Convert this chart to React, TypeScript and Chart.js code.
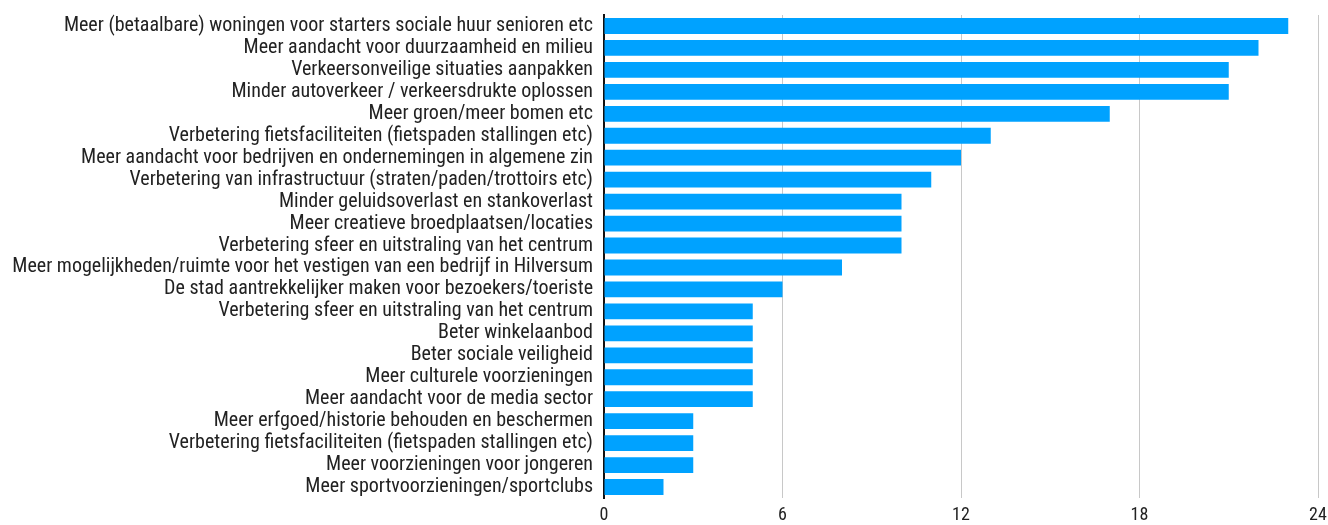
import React, { useEffect, useRef } from "react";
import { Chart, registerables } from "chart.js";

Chart.register(...registerables);

const categories: string[] = [
  "Meer (betaalbare) woningen voor starters sociale huur senioren etc",
  "Meer aandacht voor duurzaamheid en milieu",
  "Verkeersonveilige situaties aanpakken",
  "Minder autoverkeer / verkeersdrukte oplossen",
  "Meer groen/meer bomen etc",
  "Verbetering fietsfaciliteiten (fietspaden stallingen etc)",
  "Meer aandacht voor bedrijven en ondernemingen in algemene zin",
  "Verbetering van infrastructuur (straten/paden/trottoirs etc)",
  "Minder geluidsoverlast en stankoverlast",
  "Meer creatieve broedplaatsen/locaties",
  "Verbetering sfeer en uitstraling van het centrum",
  "Meer mogelijkheden/ruimte voor het vestigen van een bedrijf in Hilversum",
  "De stad aantrekkelijker maken voor bezoekers/toeriste",
  "Verbetering sfeer en uitstraling van het centrum",
  "Beter winkelaanbod",
  "Beter sociale veiligheid",
  "Meer culturele voorzieningen",
  "Meer aandacht voor de media sector",
  "Meer erfgoed/historie behouden en beschermen",
  "Verbetering fietsfaciliteiten (fietspaden stallingen etc)",
  "Meer voorzieningen voor jongeren",
  "Meer sportvoorzieningen/sportclubs",
];

const counts: number[] = [23, 22, 21, 21, 17, 13, 12, 11, 10, 10, 10, 8, 6, 5, 5, 5, 5, 5, 3, 3, 3, 2];

const xTicks: number[] = [0, 6, 12, 18, 24];

const FONT = "'Roboto Condensed', 'Liberation Sans Narrow', 'Arial Narrow', Roboto, sans-serif";

export default function App() {
  const ref = useRef<HTMLCanvasElement | null>(null);

  useEffect(() => {
    if (!ref.current) return;
    const chart = new Chart(ref.current, {
      type: "bar",
      data: {
        labels: categories.map((_, i) => String(i)),
        datasets: [
          {
            data: counts,
            backgroundColor: "#00A2FF",
            borderWidth: 0,
            categoryPercentage: 1,
            barPercentage: 0.72,
          },
        ],
      },
      options: {
        indexAxis: "y",
        animation: false,
        responsive: true,
        maintainAspectRatio: false,
        layout: { padding: { top: 15, right: 10, left: 0, bottom: 0 } },
        plugins: {
          legend: { display: false },
          tooltip: { enabled: false },
        },
        scales: {
          x: {
            min: 0,
            max: 24,
            afterBuildTicks: (scale: any) => {
              scale.ticks = xTicks.map((v) => ({ value: v }));
            },
            afterFit: (scale: any) => {
              scale.height = 27;
              scale.paddingLeft = 0;
              scale.paddingRight = 0;
            },
            grid: { color: "#c8c8c8", lineWidth: 1, drawTicks: false },
            border: { display: false },
            ticks: {
              color: "#222",
              padding: 7,
              font: { family: FONT, size: 18 },
              maxRotation: 0,
            },
          },
          y: {
            afterFit: (scale: any) => {
              scale.width = 604;
              scale.paddingTop = 0;
              scale.paddingBottom = 0;
            },
            grid: { display: false, drawTicks: false },
            border: { display: true, color: "#111", width: 2 },
            ticks: {
              color: "#222",
              padding: 11,
              autoSkip: false,
              font: { family: FONT, size: 20 },
              callback: (_v: any, i: number) => categories[i],
            },
          },
        },
      },
    });
    return () => chart.destroy();
  }, []);

  return (
    <div style={{ position: "fixed", left: 0, top: 0, width: 1328, height: 525, background: "#fff" }}>
      <canvas ref={ref} />
    </div>
  );
}
